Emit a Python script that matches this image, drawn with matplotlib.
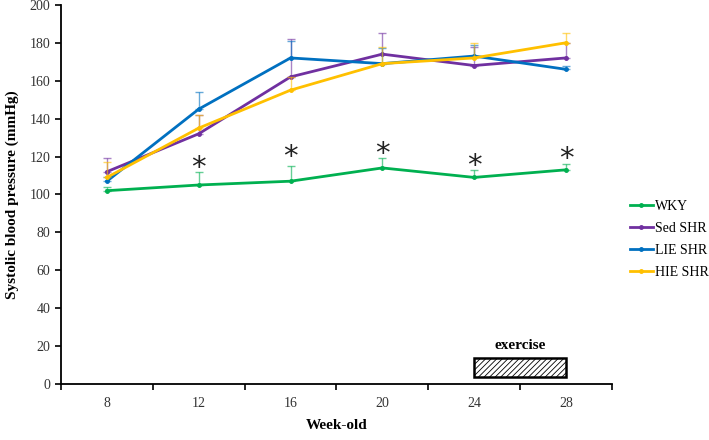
import matplotlib
matplotlib.use("Agg")
import matplotlib.pyplot as plt
from matplotlib.patches import Rectangle

plt.rcParams["font.family"] = ["Liberation Serif", "DejaVu Serif"]
plt.rcParams["hatch.linewidth"] = 0.6

weeks = ["8", "12", "16", "20", "24", "28"]

wky = [102, 105, 107, 114, 109, 113]
wky_sd = [2, 7, 8, 5, 4, 3]
sed = [112, 132, 162, 174, 168, 172]
sed_sd = [7, 10, 20, 11, 10, 8]
lie = [107, 145, 172, 169, 173, 166]
lie_sd = [2, 9, 9, 8, 6, 2]
hie = [109, 135, 155, 169, 172, 180]
hie_sd = [8, 7, 7, 9, 8, 5]

# weeks with significance marks and the level the mark sits at
star_weeks = ["12", "16", "20", "24", "28"]
star_level = [114, 120, 121.5, 115, 118.5]

series = [
    ("WKY", wky, wky_sd, "#00B050"),
    ("Sed SHR", sed, sed_sd, "#7030A0"),
    ("LIE SHR", lie, lie_sd, "#0070C0"),
    ("HIE SHR", hie, hie_sd, "#FFC000"),
]

fig = plt.figure(figsize=(7.09, 4.40), dpi=100)
ax = fig.add_axes([0.086, 0.127, 0.777, 0.862])

x = list(range(len(weeks)))
for name, vals, sd, color in series:
    ax.errorbar(x, vals, yerr=[[0] * len(sd), sd], fmt="none", ecolor=color,
                elinewidth=1.0, capsize=3, capthick=1.0, alpha=0.6)
    ax.plot(x, vals, "o-", color=color, label=name, markersize=2.5, linewidth=2)

# significance marks above WKY
for w, lvl in zip(star_weeks, star_level):
    i = weeks.index(w)
    ax.text(i, lvl, "*", ha="center", va="center", fontsize=21,
            family="DejaVu Sans", color="#222222")

# exercise period
ax.add_patch(Rectangle((4, 4), 1, 10, facecolor="white", edgecolor="black",
                       hatch="//////", linewidth=1.8, zorder=5))
ax.text(4.5, 20.5, "exercise", ha="center", va="center", fontsize=11,
        fontweight="bold")

ax.set_xlim(-0.5, 5.5)
ax.set_ylim(0, 200)
ax.set_yticks(range(0, 201, 20))
ax.set_xticks([i + 0.5 for i in range(-1, len(weeks))])
ax.set_xticklabels([])
ax.set_xticks(x, minor=True)
ax.set_xticklabels(weeks, minor=True)
ax.tick_params(axis="x", which="minor", length=0, pad=9, labelsize=10,
               labelcolor="#333333")
ax.tick_params(axis="x", which="major", length=4, width=1.2, direction="out")
ax.tick_params(axis="y", length=4, width=1.2, labelsize=10, labelcolor="#333333")

for s in ["top", "right"]:
    ax.spines[s].set_visible(False)
for s in ["left", "bottom"]:
    ax.spines[s].set_linewidth(1.3)

ax.set_ylabel("Systolic blood pressure (mmHg)", fontsize=11, fontweight="bold",
              labelpad=8)
ax.set_xlabel("Week-old", fontsize=11, fontweight="bold", labelpad=7)

fig.legend(*ax.get_legend_handles_labels(), loc="upper left",
           bbox_to_anchor=(0.888, 0.545), frameon=False, fontsize=10,
           handlelength=1.65, handletextpad=0.15, labelspacing=0.65,
           borderpad=0, borderaxespad=0)

fig.savefig("out.png", dpi=100)
